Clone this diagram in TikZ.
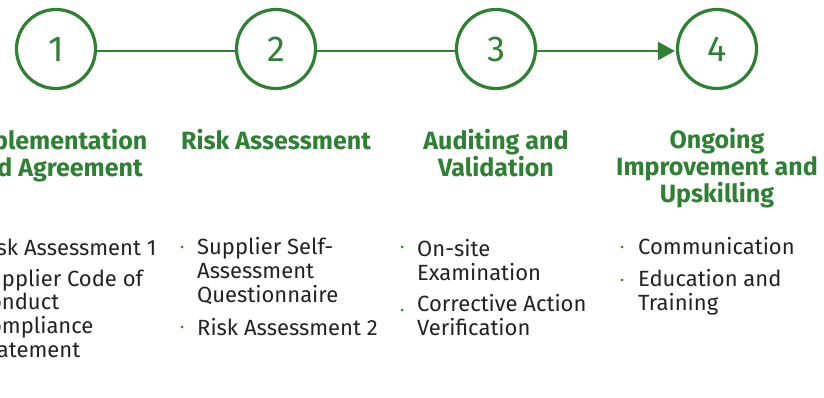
\documentclass[tikz,border=0pt]{standalone}
\usepackage{fontspec}
\setmainfont{Fira Sans}
\usetikzlibrary{arrows.meta}
\definecolor{grn}{RGB}{46,128,50}
\definecolor{ink}{RGB}{34,34,34}
\tikzset{
  stepcircle/.style={circle,draw=grn,line width=3.2pt,minimum size=79pt,inner sep=0pt,text=grn,font=\fontsize{36}{40}\selectfont},
  link/.style={draw=grn,line width=2.6pt},
  heading/.style={text=grn,font=\fontsize{25}{27}\selectfont\bfseries,align=center,inner sep=0pt,anchor=base},
  item/.style={text=ink,font=\fontsize{22}{23.6}\selectfont,align=left,inner sep=0pt,anchor=base west},
  dot/.style={circle,fill=grn,inner sep=0pt,minimum size=3pt},
}
\begin{document}
\begin{tikzpicture}[x=1pt,y=-1pt]
\useasboundingbox (0,0) rectangle (824,398);
% circles
\node[stepcircle] (c1) at (56,49) {1};
\node[stepcircle] (c2) at (276,49) {2};
\node[stepcircle] (c3) at (496,49) {3};
\node[stepcircle] (c4) at (717,49) {4};
\draw[link] ([yshift=-2pt]c1.east) -- ([yshift=-2pt]c2.west);
\draw[link] ([yshift=-2pt]c2.east) -- ([yshift=-2pt]c3.west);
\draw[link,-{Triangle[length=17pt,width=18pt]}] ([yshift=-2pt]c3.east) -- ([yshift=-2pt,xshift=-1pt]c4.west);
% headings (anchor base = baseline of last line)
\node[heading] (h1) at (56,177) {Implementation\\and Agreement};
\node[heading] (h2) at (276,150) {Risk Assessment};
\node[heading] (h3) at (496,177) {Auditing and\\Validation};
\node[heading] (h4) at (717,203) {Ongoing\\Improvement and\\Upskilling};
% column 1
\node[item] (i11) at (-23,255) {Risk Assessment 1};
\node[item] (i12) at (-23,357) {Supplier Code of\\Conduct\\Compliance\\Statement};
\node[dot] (d11) at (-38,247) {};
\node[dot] (d12) at (-38,277) {};
% column 2
\node[item] (i21) at (197,302) {Supplier Self-\\Assessment\\Questionnaire};
\node[item] (i22) at (197,335) {Risk Assessment 2};
\node[dot] (d21) at (182,247) {};
\node[dot] (d22) at (182,327) {};
% column 3
\node[item] (i31) at (417,280) {On-site\\Examination};
\node[item] (i32) at (417,335) {Corrective Action\\Verification};
\node[dot] (d31) at (402,247) {};
\node[dot] (d32) at (402,310) {};
% column 4
\node[item] (i41) at (638,254) {Communication};
\node[item] (i42) at (638,310) {Education and\\Training};
\node[dot] (d41) at (622,247) {};
\node[dot] (d42) at (622,280) {};
\end{tikzpicture}
\end{document}
